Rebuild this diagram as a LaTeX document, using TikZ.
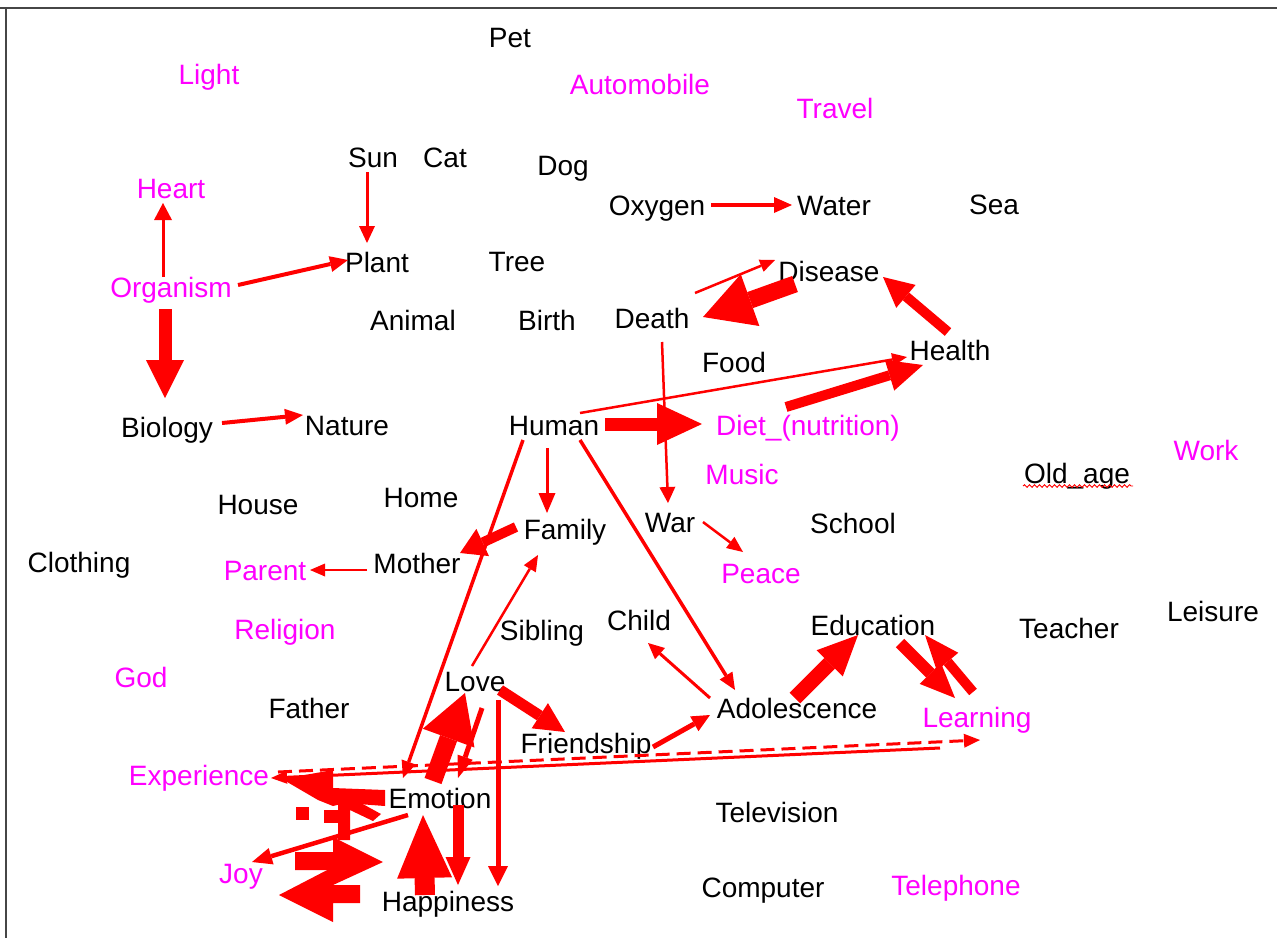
\documentclass[tikz,border=0pt]{standalone}
\usepackage{fontspec}
\setmainfont{Liberation Sans}
\usetikzlibrary{arrows.meta,decorations.pathmorphing}
\definecolor{lbl}{RGB}{255,0,255}
\definecolor{arrowred}{RGB}{255,0,0}
\definecolor{framegray}{RGB}{70,70,70}
\tikzset{
  word/.style={inner sep=0pt, text height=20pt, text depth=0pt,
    font=\fontsize{28}{32}\selectfont, text=black},
  term/.style={word, text=lbl},
  link/.style n args={3}{draw=arrowred, line width=#1,
    -{Triangle[length=#2,width=#3,line width=0pt]}},
  dlink/.style n args={3}{link={#1}{#2}{#3}, dash pattern=on 14pt off 7pt},
  blob/.style={fill=arrowred},
}
\begin{document}
\begin{tikzpicture}[x=1pt,y=-1pt]
\useasboundingbox (0,0) rectangle (1277,938);
\fill[white] (0,0) rectangle (1277,938);
% frame
\draw[framegray, line width=2pt] (0,8) -- (1277,8);
\draw[framegray, line width=2pt] (6,8) -- (6,938);

% concepts
\node[word] (Pet) at (510,37) {Pet};
\node[term] (Light) at (209,74) {Light};
\node[term] (Automobile) at (640,84) {Automobile};
\node[term] (Travel) at (835,108) {Travel};
\node[word] (Sun) at (373,157) {Sun};
\node[word] (Cat) at (445,157) {Cat};
\node[word] (Dog) at (563,165) {Dog};
\node[term] (Heart) at (171,188) {Heart};
\node[word] (Oxygen) at (657,205) {Oxygen};
\node[word] (Water) at (834,205) {Water};
\node[word] (Sea) at (994,204) {Sea};
\node[word] (Plant) at (377,262) {Plant};
\node[word] (Tree) at (517,261) {Tree};
\node[term] (Organism) at (171,287) {Organism};
\node[word] (Disease) at (829,271) {Disease};
\node[word] (Animal) at (413,320) {Animal};
\node[word] (Birth) at (547,320) {Birth};
\node[word] (Death) at (652,318) {Death};
\node[word] (Health) at (950,350) {Health};
\node[word] (Food) at (734,362) {Food};
\node[word] (Biology) at (167,427) {Biology};
\node[word] (Nature) at (347,425) {Nature};
\node[word] (Human) at (554,425) {Human};
\node[term] (Diet) at (808,425) {Diet\_(nutrition)};
\node[term] (Work) at (1206,450) {Work};
\node[word] (Oldage) at (1077,473) {Old\_age};
\node[term] (Music) at (742,474) {Music};
\node[word] (House) at (258,504) {House};
\node[word] (Home) at (421,497) {Home};
\node[word] (War) at (670,522) {War};
\node[word] (School) at (853,523) {School};
\node[word] (Family) at (565,529) {Family};
\node[word] (Clothing) at (79,562) {Clothing};
\node[term] (Parent) at (265,570) {Parent};
\node[word] (Mother) at (417,563) {Mother};
\node[term] (Peace) at (761,573) {Peace};
\node[term] (Religion) at (285,629) {Religion};
\node[word] (Sibling) at (542,630) {Sibling};
\node[word] (Child) at (639,620) {Child};
\node[word] (Education) at (873,625) {Education};
\node[word] (Teacher) at (1069,628) {Teacher};
\node[word] (Leisure) at (1213,611) {Leisure};
\node[term] (God) at (141,677) {God};
\node[word] (Love) at (475,681) {Love};
\node[word] (Father) at (309,708) {Father};
\node[word] (Adolescence) at (797,708) {Adolescence};
\node[term] (Learning) at (977,717) {Learning};
\node[word] (Friendship) at (586,743) {Friendship};
\node[term] (Experience) at (199,775) {Experience};
\node[word] (Emotion) at (440,798) {Emotion};
\node[word] (Television) at (777,812) {Television};
\node[term] (Joy) at (241,873) {Joy};
\node[word] (Computer) at (763,887) {Computer};
\node[term] (Telephone) at (956,885) {Telephone};
\node[word] (Happiness) at (448,901) {Happiness};

% spelling mark under Old_age
\draw[arrowred, line width=0.9pt, decorate,
  decoration={snake, amplitude=1.3pt, segment length=5pt}]
  ([shift={(-54,13)}]Oldage.center) -- ([shift={(56,13)}]Oldage.center);

% links
\draw[link={3pt}{17pt}{16pt}] ([shift={(-6,15)}]Sun.center) -- ([shift={(-10,-19)}]Plant.center);
\draw[link={3pt}{17pt}{18pt}] ([shift={(-8,-10)}]Organism.center) -- ([shift={(-8,15)}]Heart.center);
\draw[link={4pt}{18pt}{16pt}] ([shift={(67,-2)}]Organism.center) -- ([shift={(-29,-2)}]Plant.center);
\draw[link={4pt}{18pt}{16pt}] ([shift={(54,0)}]Oxygen.center) -- ([shift={(-42,0)}]Water.center);
\draw[link={13pt}{38pt}{38pt}] ([shift={(-6,22)}]Organism.center) -- ([shift={(-2,-29)}]Biology.center);
\draw[link={4pt}{18pt}{16pt}] ([shift={(55,-4)}]Biology.center) -- ([shift={(-44,-10)}]Nature.center);
\draw[link={2.5pt}{15pt}{13pt}] ([shift={(43,-25)}]Death.center) -- ([shift={(-54,-11)}]Disease.center);
\draw[link={17pt}{50pt}{55pt}] ([shift={(-34,13)}]Disease.center) -- ([shift={(51,-1)}]Death.center);
\draw[link={10pt}{30pt}{30pt}] ([shift={(-2,-18)}]Health.center) -- ([shift={(54,6)}]Disease.center);
\draw[link={2.5pt}{15pt}{13pt}] ([shift={(26,-12)}]Human.center) -- ([shift={(-43,7)}]Health.center);
\draw[link={10pt}{35pt}{32pt}] ([shift={(-22,-18)}]Diet.center) -- ([shift={(-27,15)}]Health.center);
\draw[link={13pt}{45pt}{42pt}] ([shift={(51,-1)}]Human.center) -- ([shift={(-106,-1)}]Diet.center);
\draw[link={2.5pt}{16pt}{16pt}] ([shift={(10,24)}]Death.center) -- ([shift={(-2,-19)}]War.center);
\draw[link={3pt}{20pt}{17pt}] ([shift={(-7,23)}]Human.center) -- ([shift={(-18,-16)}]Family.center);
\draw[link={10pt}{25pt}{30pt}] ([shift={(-49,-2)}]Family.center) -- ([shift={(43,-10)}]Mother.center);
\draw[link={2.5pt}{15pt}{13pt}] ([shift={(-50,7)}]Mother.center) -- ([shift={(45,0)}]Parent.center);
\draw[link={2.5pt}{16pt}{14pt}] ([shift={(33,0)}]War.center) -- ([shift={(-18,-21)}]Peace.center);
\draw[link={3.5pt}{17pt}{15pt}] ([shift={(-31,15)}]Human.center) -- ([shift={(-37,-20)}]Emotion.center);
\draw[link={3.5pt}{17pt}{15pt}] ([shift={(26,15)}]Human.center) -- ([shift={(-62,-18)}]Adolescence.center);
\draw[link={2.5pt}{16pt}{14pt}] ([shift={(-3,-15)}]Love.center) -- ([shift={(-27,26)}]Family.center);
\draw[link={3pt}{16pt}{15pt}] ([shift={(-87,-10)}]Adolescence.center) -- ([shift={(9,23)}]Child.center);
\draw[link={5pt}{18pt}{17pt}] ([shift={(67,4)}]Friendship.center) -- ([shift={(-87,7)}]Adolescence.center);
\draw[link={15pt}{40pt}{37pt}] ([shift={(-2,-10)}]Adolescence.center) -- ([shift={(-15,10)}]Education.center);
\draw[link={12pt}{35pt}{30pt}] ([shift={(27,18)}]Education.center) -- ([shift={(-22,-19)}]Learning.center);
\draw[link={10pt}{35pt}{28pt}] ([shift={(-4,-25)}]Learning.center) -- ([shift={(52,10)}]Education.center);
\draw[link={11pt}{30pt}{30pt}] ([shift={(25,9)}]Love.center) -- ([shift={(-21,-11)}]Friendship.center);
\draw[link={5pt}{20pt}{20pt}] ([shift={(23,19)}]Love.center) -- ([shift={(50,-15)}]Happiness.center);
\draw[link={5pt}{22pt}{16pt}] ([shift={(7,27)}]Love.center) -- ([shift={(18,-20)}]Emotion.center);
\draw[link={18pt}{48pt}{55pt}] ([shift={(-7,-17)}]Emotion.center) -- ([shift={(-10,12)}]Love.center);
\draw[link={11pt}{28pt}{25pt}] ([shift={(18,7)}]Emotion.center) -- ([shift={(10,-16)}]Happiness.center);
\draw[link={20pt}{63pt}{55pt}] ([shift={(-23,-6)}]Happiness.center) -- ([shift={(-17,17)}]Emotion.center);
\draw[link={3pt}{16pt}{13pt}] ([shift={(-37,31)}]Learning.center) -- ([shift={(72,3)}]Experience.center);
\draw[dlink={3pt}{16pt}{14pt}] ([shift={(79,-3)}]Experience.center) -- ([shift={(3,23)}]Learning.center);

% tangle of heavy arrows between Emotion, Experience and Joy
\fill[blob] (282,779) -- (333,770) -- (333,788) -- (385,790) -- (385,806)
  -- (345,803) -- (333,806) -- (318,800) -- cycle;
\fill[blob] (296,807) rectangle (309,820);
\fill[blob] (324,810) rectangle (338,823);
\fill[blob] (338,800) -- (350,797) -- (381,814) -- (373,821) -- (350,810)
  -- (350,840) -- (338,840) -- cycle;
\fill[blob] (295,852) -- (333,852) -- (333,837) -- (383,862) -- (333,885)
  -- (333,870) -- (295,870) -- cycle;
\fill[blob] (279,895) -- (333,867) -- (333,885) -- (360,885) -- (360,903)
  -- (333,903) -- (333,922) -- cycle;
\draw[link={4.5pt}{20pt}{17pt}] ([shift={(-32,17)}]Emotion.center) -- ([shift={(11,-11)}]Joy.center);
\end{tikzpicture}
\end{document}
